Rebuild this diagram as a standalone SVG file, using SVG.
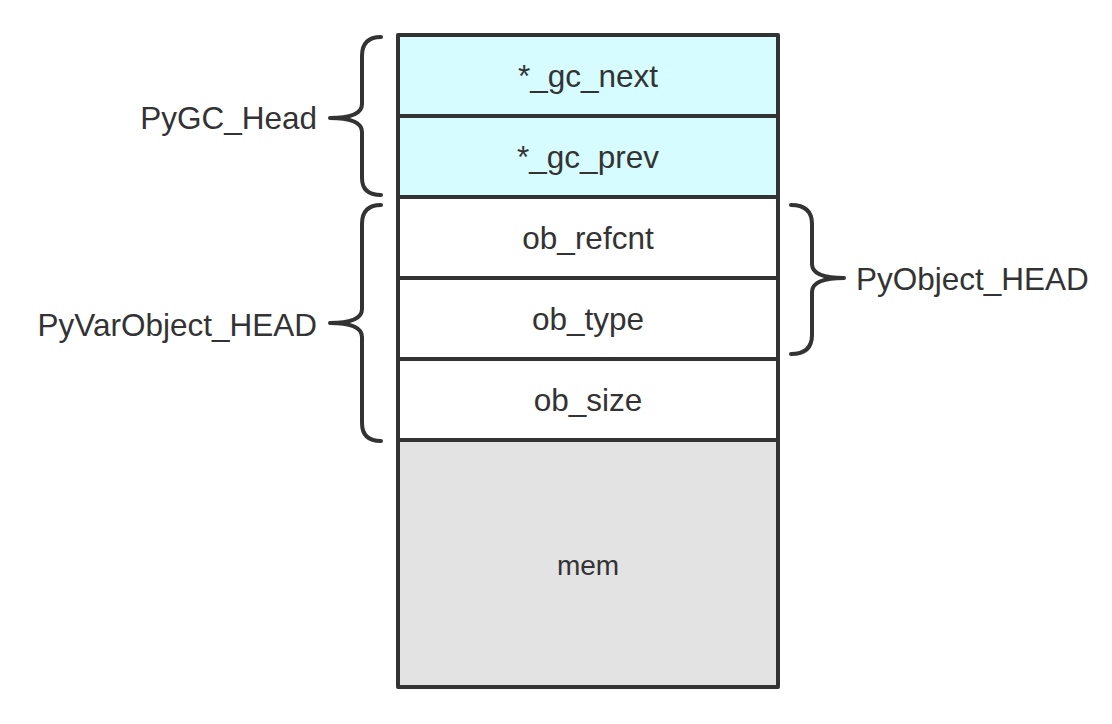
<svg xmlns="http://www.w3.org/2000/svg" width="1112" height="724" viewBox="0 0 1112 724">
<style>
.cell{stroke:#333;stroke-width:4;stroke-linejoin:round}
.t{font-family:"Liberation Sans",Arial,sans-serif;font-size:31.5px;fill:#333;text-anchor:middle;dominant-baseline:central}
.lbl{font-family:"Liberation Sans",Arial,sans-serif;font-size:31.5px;fill:#333;dominant-baseline:central}
.brace{fill:none;stroke:#333;stroke-width:4;stroke-linecap:round;stroke-linejoin:round}
</style>
<rect width="1112" height="724" fill="#fff"/>
<g id="gc_next"><rect class="cell" x="398" y="35" width="380" height="81" fill="#d6fcff"/><text class="t" x="588" y="76">*_gc_next</text></g>
<g id="gc_prev"><rect class="cell" x="398" y="116" width="380" height="81" fill="#d6fcff"/><text class="t" x="588" y="157">*_gc_prev</text></g>
<g id="ob_refcnt"><rect class="cell" x="398" y="197" width="380" height="81" fill="#fff"/><text class="t" x="588" y="238">ob_refcnt</text></g>
<g id="ob_type"><rect class="cell" x="398" y="278" width="380" height="81" fill="#fff"/><text class="t" x="588" y="319">ob_type</text></g>
<g id="ob_size"><rect class="cell" x="398" y="359" width="380" height="81" fill="#fff"/><text class="t" x="588" y="400">ob_size</text></g>
<g id="mem"><rect class="cell" x="398" y="440" width="380" height="247" fill="#e3e3e3"/><text class="t" x="588" y="565" style="font-size:28px">mem</text></g>
<g id="connectors">
<path class="brace" d="M381,37 Q362,37 362,56 L362,104 Q362,118 330,118 Q362,118 362,132 L362,178 Q362,195 381,195"/>
<path class="brace" d="M381,205 Q362,205 362,224 L362,309 Q362,323 330,323 Q362,323 362,337 L362,423 Q362,441 381,441"/>
<path class="brace" d="M791,205 Q812,205 812,224 L812,264 Q812,278 844,278 Q812,278 812,292 L812,335 Q812,354 791,354"/>
</g>
<g id="PyGC_Head"><text class="lbl" x="317" y="118" text-anchor="end">PyGC_Head</text></g>
<g id="PyVarObject_HEAD"><text class="lbl" x="317" y="325" text-anchor="end">PyVarObject_HEAD</text></g>
<g id="PyObject_HEAD"><text class="lbl" x="856" y="279">PyObject_HEAD</text></g>
</svg>
